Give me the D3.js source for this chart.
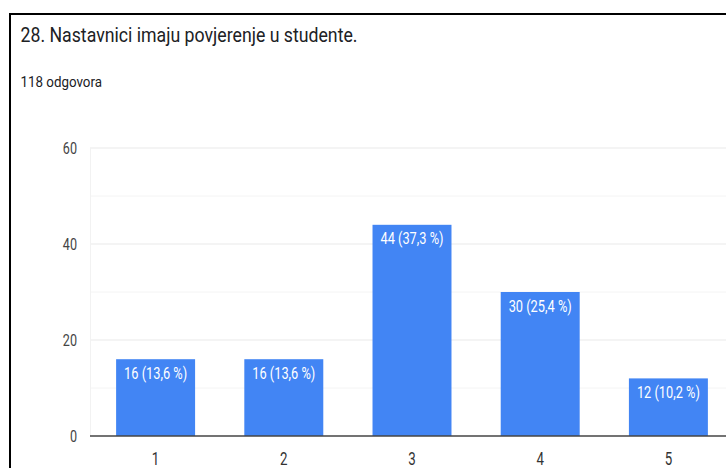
<!DOCTYPE html>
<html>
<head>
<meta charset="utf-8">
<script src="https://cdn.jsdelivr.net/npm/d3@7"></script>
<style>
  html, body { margin: 0; padding: 0; background: #fff; }
  svg { display: block; font-family: Roboto, "Noto Sans", sans-serif; }
</style>
</head>
<body>
<svg id="chart" width="726" height="468"></svg>
<script>
const title = "28. Nastavnici imaju povjerenje u studente.";
const subtitle = "118 odgovora";
const categories = ["1", "2", "3", "4", "5"];
const counts = [16, 16, 44, 30, 12];
const labels = ["16 (13,6 %)", "16 (13,6 %)", "44 (37,3 %)", "30 (25,4 %)", "12 (10,2 %)"];
const yTicks = [0, 20, 40, 60];
const yMinor = [10, 30, 50];

const svg = d3.select("#chart");
const W = 726, H = 468;

function condense(sel, k) {
  sel.each(function () {
    const len = this.getComputedTextLength();
    d3.select(this).attr("textLength", len * k).attr("lengthAdjust", "spacingAndGlyphs");
  });
}

const y = d3.scaleLinear().domain([0, 60]).range([436, 148]);
const x = d3.scaleBand().domain(categories).range([91.5, 732.5]).paddingInner(0.384).paddingOuter(0.192);

// frame
svg.append("rect").attr("x", 10).attr("y", 14).attr("width", W + 20).attr("height", H + 20)
  .attr("fill", "none").attr("stroke", "#000").attr("stroke-width", 2);

// title & subtitle
svg.append("text").attr("x", 20.5).attr("y", 42).attr("font-size", 21).attr("fill", "#202124")
  .text(title).attr("textLength", 337).attr("lengthAdjust", "spacingAndGlyphs");
svg.append("text").attr("x", 20.5).attr("y", 86.5).attr("font-size", 14).attr("fill", "#202124")
  .text(subtitle).attr("textLength", 81.5).attr("lengthAdjust", "spacingAndGlyphs");

// grid
svg.append("g").selectAll("line").data(yMinor).join("line")
  .attr("x1", 90).attr("x2", W).attr("y1", d => y(d)).attr("y2", d => y(d))
  .attr("stroke", "#f4f4f4").attr("stroke-width", 1);
svg.append("g").selectAll("line").data(yTicks.filter(d => d > 0)).join("line")
  .attr("x1", 90).attr("x2", W).attr("y1", d => y(d)).attr("y2", d => y(d))
  .attr("stroke", "#e9e9e9").attr("stroke-width", 1.2);
svg.append("line").attr("x1", 90.5).attr("x2", 90.5).attr("y1", y(60)).attr("y2", y(0))
  .attr("stroke", "#f2f2f2").attr("stroke-width", 1);

// y axis labels
const yAxis = svg.append("g").attr("transform", "translate(77,0)")
  .call(d3.axisLeft(y).tickValues(yTicks).tickSize(0).tickPadding(0));
yAxis.select(".domain").remove();
yAxis.selectAll("text").attr("font-size", 17).attr("fill", "#444").attr("font-family", "Roboto")
  .attr("dy", "0.34em").attr("text-anchor", "end");
condense(yAxis.selectAll("text"), 0.74);

// bars
svg.append("g").selectAll("rect").data(counts).join("rect")
  .attr("x", (d, i) => x(categories[i])).attr("width", x.bandwidth())
  .attr("y", d => y(d)).attr("height", d => y(0) - y(d))
  .attr("fill", "#4285f4");

// bar labels
const bl = svg.append("g").selectAll("text").data(counts).join("text")
  .attr("x", (d, i) => x(categories[i]) + x.bandwidth() / 2)
  .attr("y", d => y(d) + 19.5)
  .attr("text-anchor", "middle").attr("font-size", 16).attr("fill", "#fff")
  .text((d, i) => labels[i]);
condense(bl, 0.8);

// x axis
const xAxis = svg.append("g").attr("transform", "translate(0,436)")
  .call(d3.axisBottom(x).tickSize(0).tickPadding(0));
xAxis.select(".domain").remove();
xAxis.selectAll("text").attr("font-size", 18).attr("fill", "#333").attr("font-family", "Roboto")
  .attr("dy", 0).attr("y", 28.5);
condense(xAxis.selectAll("text"), 0.74);

svg.append("line").attr("x1", 90).attr("x2", W).attr("y1", 436).attr("y2", 436)
  .attr("stroke", "#444").attr("stroke-width", 1.6);
</script>
</body>
</html>
